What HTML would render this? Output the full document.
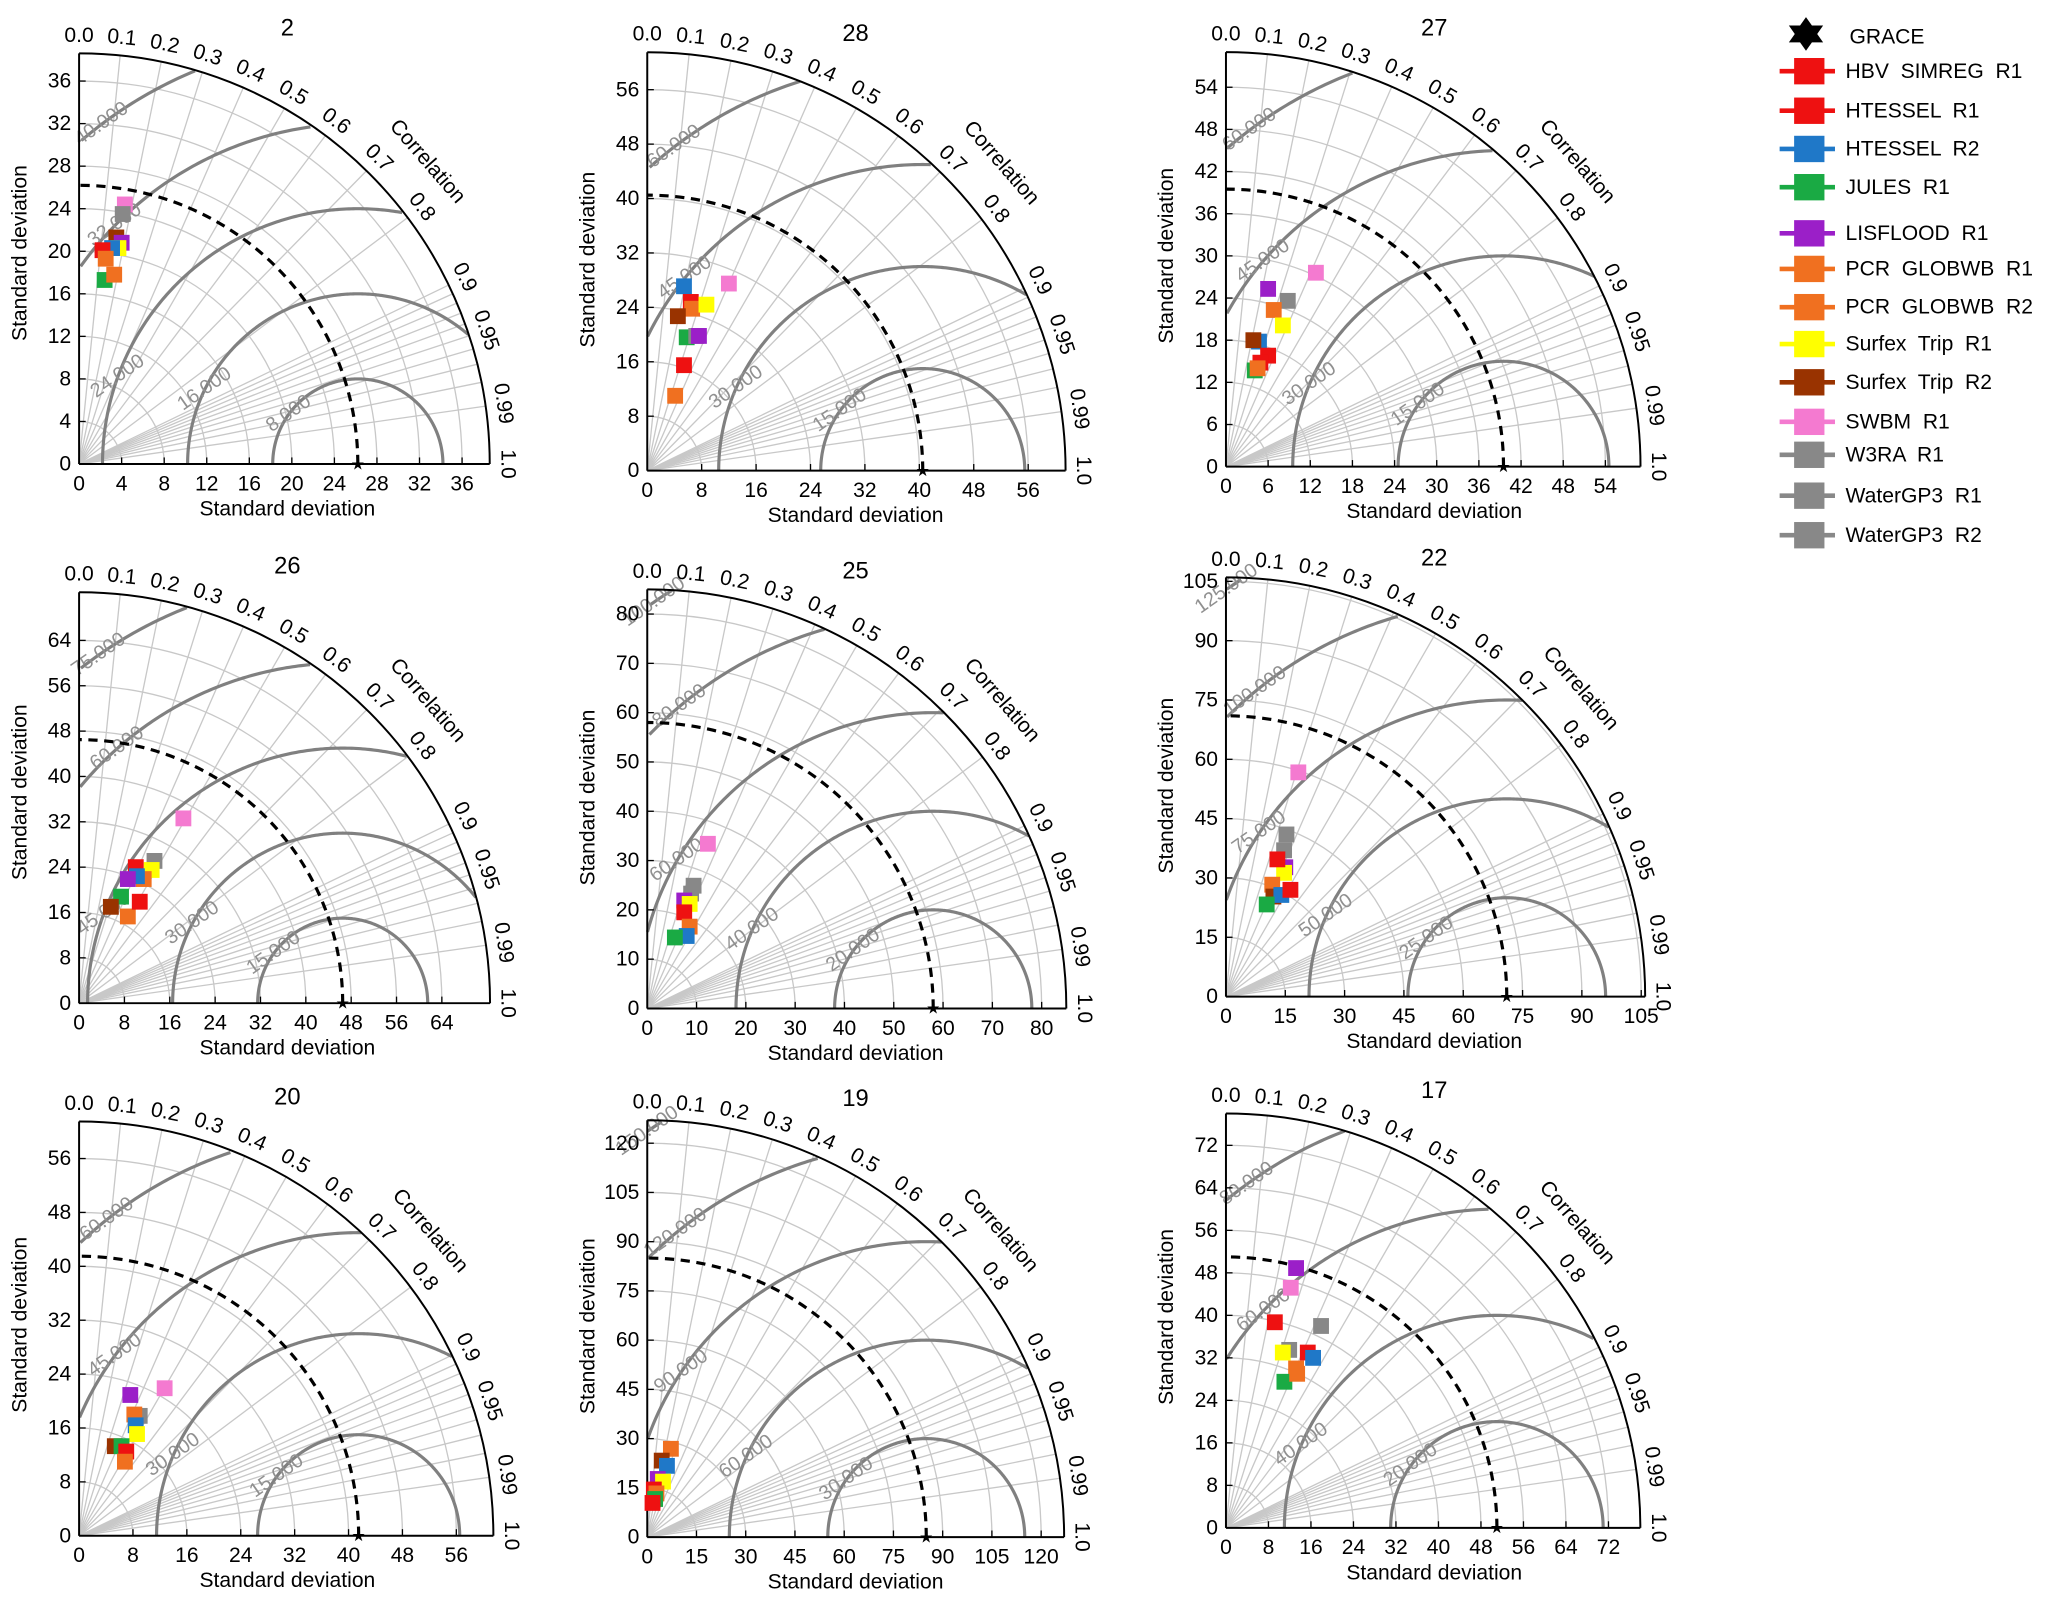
<!DOCTYPE html>
<html><head><meta charset="utf-8"><title>Taylor diagrams</title>
<style>
html,body{margin:0;padding:0;background:#fff;}
svg{display:block;font-family:"Liberation Sans","DejaVu Sans",sans-serif;}
</style></head>
<body>
<svg id="chart" width="2067" height="1603" viewBox="0 0 1568 1216" preserveAspectRatio="none" xmlns="http://www.w3.org/2000/svg"></svg>
<script>
// ---- data ----
const titles = ["2","28","27","26","25","22","20","19","17"];
const refStd = [26.2,40.5,39.5,46.5,58,71,41.5,85,51];
const tickStep = [4,8,6,8,10,15,8,15,8];
const tickMax = [36,56,54,64,80,105,56,120,72];
const maxStd = [38.6,61.5,59,72.5,85,106,61.5,127,78];
const rmsStep = [8,15,15,15,20,25,15,30,20];
const corrLabels = [0.0,0.1,0.2,0.3,0.4,0.5,0.6,0.7,0.8,0.9,0.95,0.99,1.0];
const corrGrid = [0.1,0.2,0.3,0.4,0.5,0.6,0.7,0.8,0.9,0.91,0.92,0.93,0.94,0.95,0.96,0.97,0.98,0.99];
const modelNames = ["HBV  SIMREG  R1","HTESSEL  R1","HTESSEL  R2","JULES  R1","LISFLOOD  R1","PCR  GLOBWB  R1","PCR  GLOBWB  R2","Surfex  Trip  R1","Surfex  Trip  R2","SWBM  R1","W3RA  R1","WaterGP3  R1","WaterGP3  R2"];
const modelColors = ["#ee1111","#ee1111","#1f78c8","#1aaa44","#9b1fc8","#f07020","#f07020","#ffff00","#993300","#f47ad0","#888888","#888888","#888888"];
// per-panel markers: model index, x (std*corr), y (std*sin)
const mIdx = [
 [9,10,8,4,7,2,0,5,3,6],
 [2,0,5,8,7,9,3,10,4,1,6],
 [9,4,10,5,7,2,8,0,1,3,6],
 [9,10,7,0,5,2,4,3,8,6,1],
 [9,10,11,4,7,0,5,2,3],
 [9,10,11,4,7,0,5,8,2,1,3],
 [9,4,10,5,2,7,8,3,0,6],
 [5,8,2,4,7,0,6,3,1],
 [4,9,0,10,1,2,11,7,5,3,6]];
const mX = [
 [4.3,4.1,3.5,4.0,3.7,3.1,2.2,2.5,2.4,3.3],
 [5.4,6.4,6.6,4.5,8.7,12,5.8,7.2,7.6,5.4,4.1],
 [12.8,6.0,8.8,6.8,8.1,4.7,3.9,6.0,4.9,4.1,4.5],
 [18.4,13.3,12.8,10,11.4,10.2,8.6,7.4,5.6,8.6,10.7],
 [12.3,9.4,8.9,7.5,8.6,7.5,8.6,8,5.6],
 [18.3,15.3,14.7,15,14.7,13,11.7,12,14,16.3,10.3],
 [12.7,7.6,9,8.2,8.4,8.6,5.3,6.3,7,6.8],
 [7.2,4.4,6,3.2,4.8,2,2.8,2.4,1.6],
 [13.2,12.2,9.2,17.9,15.4,16.4,11.9,10.7,13.2,11,13.4]];
const mY = [
 [24.4,23.5,21.3,20.8,20.3,20.3,20.1,19.3,17.3,17.8],
 [27.1,24.8,23.8,22.7,24.4,27.5,19.6,19.8,19.8,15.5,11.0],
 [27.6,25.3,23.6,22.3,20.1,17.8,18,15.8,14.8,13.7,14],
 [32.6,25.1,23.5,24,21.9,22.4,21.9,18.8,17,15.3,17.9],
 [33.4,24.9,23.3,21.9,21.2,19.5,16.6,14.7,14.4],
 [56.7,41,37,32.7,31.3,34.7,28.3,25.3,25.7,27,23.3],
 [21.9,20.9,17.8,18,16.4,15.1,13.3,13.3,12.5,11],
 [26.9,23.3,21.7,17.7,16.9,14.5,13.3,11.6,10.4],
 [48.9,45.2,38.7,38,33,32,33.5,33,30,27.5,29]];

// ---- layout (pixels, display space) ----
const originX = [60,491,930,60,491,930,60,491,930];
const originY = [352,357,354,761,765,756,1165,1166,1159];
const titleY = [20,24,20,428,432,422,831,832,826];
const pxPerUnit = [8.07,5.16,5.33,4.30,3.74,3.0,5.11,2.49,4.03];

const NS="http://www.w3.org/2000/svg";
const svg=document.getElementById('chart');
function mk(tag,parent,attrs){const e=document.createElementNS(NS,tag);for(const k in attrs)e.setAttribute(k,attrs[k]);parent.appendChild(e);return e;}

for(let p=0;p<9;p++){
  const ox=originX[p], oy=originY[p], R=maxStd[p];
  const s=pxPerUnit[p];
  const Rp=R*s;
  const sx=v=>ox+v*s, sy=v=>oy-v*s;
  const g=mk('g',svg,{});
  
  
  for(let v=tickStep[p]; v<=tickMax[p]; v+=tickStep[p]){
    const a=mk('path',g,{d:`M${sx(v)},${oy} A${v*s},${v*s} 0 0 0 ${ox},${sy(v)}`,fill:'none',stroke:'#c8c8c8','stroke-width':1});
    
    
  }
  corrGrid.forEach(c=>{
    const th=Math.acos(c);
    const l=mk('line',g,{x1:ox,y1:oy,x2:ox+Rp*Math.cos(th),y2:oy-Rp*Math.sin(th),stroke:'#c8c8c8','stroke-width':1});
    
    
  });
  const ref=refStd[p];
  for(let r=rmsStep[p]; r<=ref+R; r+=rmsStep[p]){
    let segs=[],cur=[];
    for(let i=0;i<=360;i++){
      const ph=Math.PI*i/360;
      const x=ref+r*Math.cos(ph), y=r*Math.sin(ph);
      if(x>=0 && x*x+y*y<=R*R){cur.push([x,y]);}
      else if(cur.length){segs.push(cur);cur=[];}
    }
    if(cur.length)segs.push(cur);
    let allpts=[];
    segs.forEach(sg=>{
      if(sg.length<2)return;
      allpts=allpts.concat(sg);
      const pl=mk('polyline',g,{points:sg.map(q=>sx(q[0])+','+sy(q[1])).join(' '),fill:'none',stroke:'#808080','stroke-width':2.4});
      
      
    });
    if(allpts.length>4){
      const q=allpts[Math.floor(allpts.length*0.8)];
      const t=mk('text',g,{x:sx(q[0]),y:sy(q[1]),'font-size':15,fill:'#909090','text-anchor':'middle','dominant-baseline':'middle',transform:`rotate(-35 ${sx(q[0])} ${sy(q[1])})`});
      t.textContent=r.toFixed(3);
      
      
    }
  }
  const da=mk('path',g,{d:`M${sx(ref)},${oy} A${ref*s},${ref*s} 0 0 0 ${ox},${sy(ref)}`,fill:'none',stroke:'#000','stroke-width':2.4,'stroke-dasharray':'7,5'});
  
  
  const st=mk('text',g,{x:sx(ref),y:oy+4,'font-size':12,'text-anchor':'middle'});
  st.textContent='★';
  
  
  const oa=mk('path',g,{d:`M${ox+Rp},${oy} A${Rp},${Rp} 0 0 0 ${ox},${oy-Rp}`,fill:'none',stroke:'#000','stroke-width':1.5});
  
  
  const xa=mk('line',g,{x1:ox,y1:oy,x2:ox+Rp,y2:oy,stroke:'#000','stroke-width':1.5});
  
  
  const ya=mk('line',g,{x1:ox,y1:oy,x2:ox,y2:oy-Rp,stroke:'#000','stroke-width':1.5});
  
  
  for(let v=0; v<=tickMax[p]; v+=tickStep[p]){
    const tx=mk('text',g,{x:sx(v),y:oy+20,'font-size':16,'text-anchor':'middle'});
    tx.textContent=v;
    
    
    const ty=mk('text',g,{x:ox-6,y:sy(v)+5,'font-size':16,'text-anchor':'end'});
    ty.textContent=v;
    
    
    mk('line',g,{x1:sx(v),y1:oy,x2:sx(v),y2:oy-5,stroke:'#000'});
    mk('line',g,{x1:ox,y1:sy(v),x2:ox+5,y2:sy(v),stroke:'#000'});
  }
  corrLabels.forEach(c=>{
    const th=Math.acos(c);
    const rr=Rp+13;
    const x=ox+rr*Math.cos(th), y=oy-rr*Math.sin(th);
    const rot=90-th*180/Math.PI;
    const t=mk('text',g,{x:x,y:y,'font-size':16,'text-anchor':'middle','dominant-baseline':'middle',transform:`rotate(${rot} ${x} ${y})`});
    t.textContent=c.toFixed(c===0.95||c===0.99?2:1);
    
    
  });
  const th=Math.acos(0.755), rr=Rp+38;
  const cx=ox+rr*Math.cos(th), cy=oy-rr*Math.sin(th);
  const ct=mk('text',g,{x:cx,y:cy,'font-size':16,'text-anchor':'middle','dominant-baseline':'middle',transform:`rotate(${90-th*180/Math.PI} ${cx} ${cy})`});
  ct.textContent='Correlation';
  
  
  const xt=mk('text',g,{x:ox+158,y:oy+39,'font-size':16,'text-anchor':'middle'});
  xt.textContent='Standard deviation';
  
  
  const yx=ox-40, yy=oy-160;
  const yt=mk('text',g,{x:yx,y:yy,'font-size':16,'text-anchor':'middle',transform:`rotate(-90 ${yx} ${yy})`});
  yt.textContent='Standard deviation';
  
  
  const tt=mk('text',g,{x:ox+158,y:titleY[p]+7,'font-size':18,'text-anchor':'middle'});
  tt.textContent=titles[p];
  
  
  mIdx[p].forEach((m,i)=>{
    const r=mk('rect',g,{x:sx(mX[p][i])-6,y:sy(mY[p][i])-6,width:12,height:12,fill:modelColors[m]});
    
    
  });
}
const lg=mk('g',svg,{});


const gs=mk('path',lg,{d:'M1370,16 L1374.5,23.5 L1383,23.5 L1378.5,31 L1383,38.5 L1374.5,38.5 L1370,46 L1365.5,38.5 L1357,38.5 L1361.5,31 L1357,23.5 L1365.5,23.5 Z',fill:'#000',transform:'translate(0,-4) scale(1,0.85) translate(0,4)'});


const gt=mk('text',lg,{x:1403,y:33,'font-size':16});
gt.textContent='GRACE';


const legY=[54,84,113,142,177,204,233,261,290,320,345,376,406];
modelNames.forEach((n,i)=>{
  const y=legY[i];
  mk('line',lg,{x1:1350,y1:y,x2:1392,y2:y,stroke:modelColors[i],'stroke-width':3.5});
  mk('rect',lg,{x:1361,y:y-10,width:23,height:20,fill:modelColors[i]});
  const t=mk('text',lg,{x:1400,y:y+5,'font-size':16});
  t.textContent=n;
  t.setAttribute('style','white-space:pre');
  
  
});
</script>
</body></html>
